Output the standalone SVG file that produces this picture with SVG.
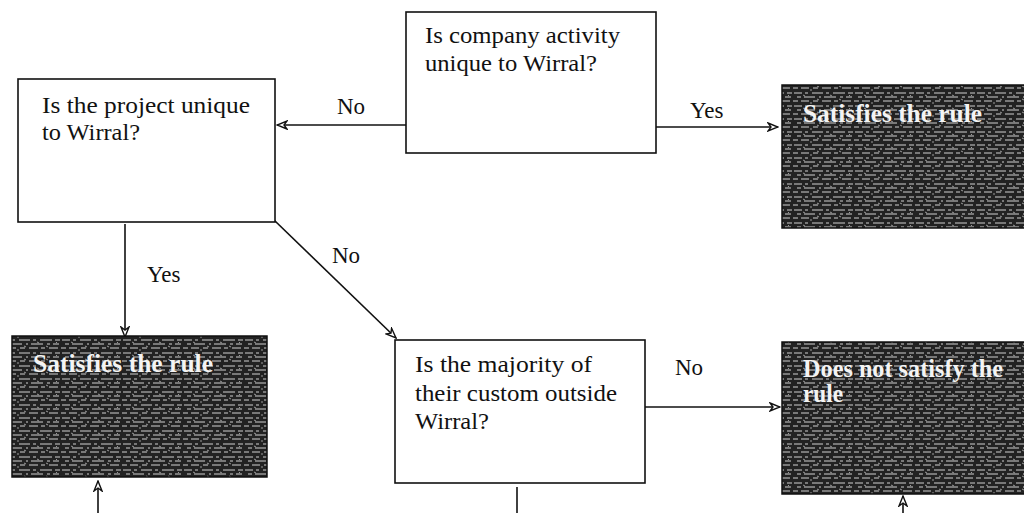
<svg xmlns="http://www.w3.org/2000/svg" width="1024" height="513" viewBox="0 0 1024 513">
  <defs>
    <style>
      .q { fill: #ffffff; stroke: #111111; stroke-width: 1.6; }
      .dark { fill: url(#noise); stroke: #111111; stroke-width: 1.5; }
      .tx { font-family: "Liberation Serif", "Times New Roman", "DejaVu Serif", serif; font-size: 24px; fill: #111111; }
      .lbl { font-family: "Liberation Serif", "Times New Roman", "DejaVu Serif", serif; font-size: 23px; fill: #111111; }
      .wt { font-family: "Liberation Serif", "Times New Roman", "DejaVu Serif", serif; font-size: 25px; font-weight: bold; fill: #f4f4f4; }
      .ln { stroke: #111111; stroke-width: 1.6; fill: none; }
    </style>
    <marker id="ah" viewBox="0 0 12 10" refX="11" refY="5" markerWidth="12" markerHeight="10" markerUnits="userSpaceOnUse" orient="auto">
      <path d="M1,1 L11,5 L1,9 L4,5 Z" fill="#ffffff" stroke="#111111" stroke-width="1.4"/>
    </marker>
    <pattern id="noise" width="61" height="13" patternUnits="userSpaceOnUse">
      <rect width="61" height="13" fill="#222222"/>
      <path d="M1,2 H9 M12,2 H15 M19,2 H30 M33,2 H36 M40,2 H52 M55,2 H60 M4,6 H8 M11,6 H22 M26,6 H28 M31,6 H43 M47,6 H50 M53,6 H59 M0,10 H5 M8,10 H16 M20,10 H25 M29,10 H38 M41,10 H45 M49,10 H58" stroke="#cfcfcf" stroke-width="1"/>
      <path d="M10,4 L12,5 M24,8 L26,9 M37,4 L39,5 M46,8 L48,9 M17,12 L19,12 M56,4 L57,5" stroke="#9a9a9a" stroke-width="1"/>
    </pattern>
  </defs>

  <g id="connectors">
    <line class="ln" x1="406" y1="125" x2="277" y2="125" marker-end="url(#ah)"/>
    <line class="ln" x1="656" y1="127" x2="778" y2="127" marker-end="url(#ah)"/>
    <line class="ln" x1="125" y1="224" x2="125" y2="337" marker-end="url(#ah)"/>
    <line class="ln" x1="274" y1="220" x2="396" y2="338" marker-end="url(#ah)"/>
    <line class="ln" x1="645" y1="407" x2="780" y2="407" marker-end="url(#ah)"/>
    <line class="ln" x1="98" y1="513" x2="98" y2="481" marker-end="url(#ah)"/>
    <line class="ln" x1="903" y1="513" x2="903" y2="496" marker-end="url(#ah)"/>
    <line class="ln" x1="517" y1="487" x2="517" y2="513"/>
    <text class="lbl" x="337" y="114">No</text>
    <text class="lbl" x="690" y="118">Yes</text>
    <text class="lbl" x="147" y="282">Yes</text>
    <text class="lbl" x="332" y="263">No</text>
    <text class="lbl" x="675" y="375">No</text>
  </g>

  <g id="q-company">
    <rect class="q" x="406" y="12" width="250" height="141"/>
    <text class="tx" x="425" y="43" textLength="195" lengthAdjust="spacingAndGlyphs">Is company activity</text>
    <text class="tx" x="425" y="71" textLength="172" lengthAdjust="spacingAndGlyphs">unique to Wirral?</text>
  </g>

  <g id="q-project">
    <rect class="q" x="18" y="79" width="257" height="143"/>
    <text class="tx" x="42" y="113" textLength="208" lengthAdjust="spacingAndGlyphs">Is the project unique</text>
    <text class="tx" x="42" y="140" textLength="98" lengthAdjust="spacingAndGlyphs">to Wirral?</text>
  </g>

  <g id="q-majority">
    <rect class="q" x="395" y="340" width="250" height="143"/>
    <text class="tx" x="415" y="372" textLength="177" lengthAdjust="spacingAndGlyphs">Is the majority of</text>
    <text class="tx" x="415" y="401" textLength="202" lengthAdjust="spacingAndGlyphs">their custom outside</text>
    <text class="tx" x="415" y="429" textLength="74" lengthAdjust="spacingAndGlyphs">Wirral?</text>
  </g>

  <g id="r-satisfies-top">
    <rect class="dark" x="782" y="85" width="250" height="143"/>
    <text class="wt" x="803" y="122" textLength="179" lengthAdjust="spacingAndGlyphs">Satisfies the rule</text>
  </g>

  <g id="r-satisfies-left">
    <rect class="dark" x="12" y="336" width="255" height="141"/>
    <text class="wt" x="33" y="372" textLength="180" lengthAdjust="spacingAndGlyphs">Satisfies the rule</text>
  </g>

  <g id="r-not-satisfy">
    <rect class="dark" x="782" y="342" width="250" height="152"/>
    <text class="wt" x="803" y="377" textLength="200" lengthAdjust="spacingAndGlyphs">Does not satisfy the</text>
    <text class="wt" x="803" y="402" textLength="40" lengthAdjust="spacingAndGlyphs">rule</text>
  </g>
</svg>
